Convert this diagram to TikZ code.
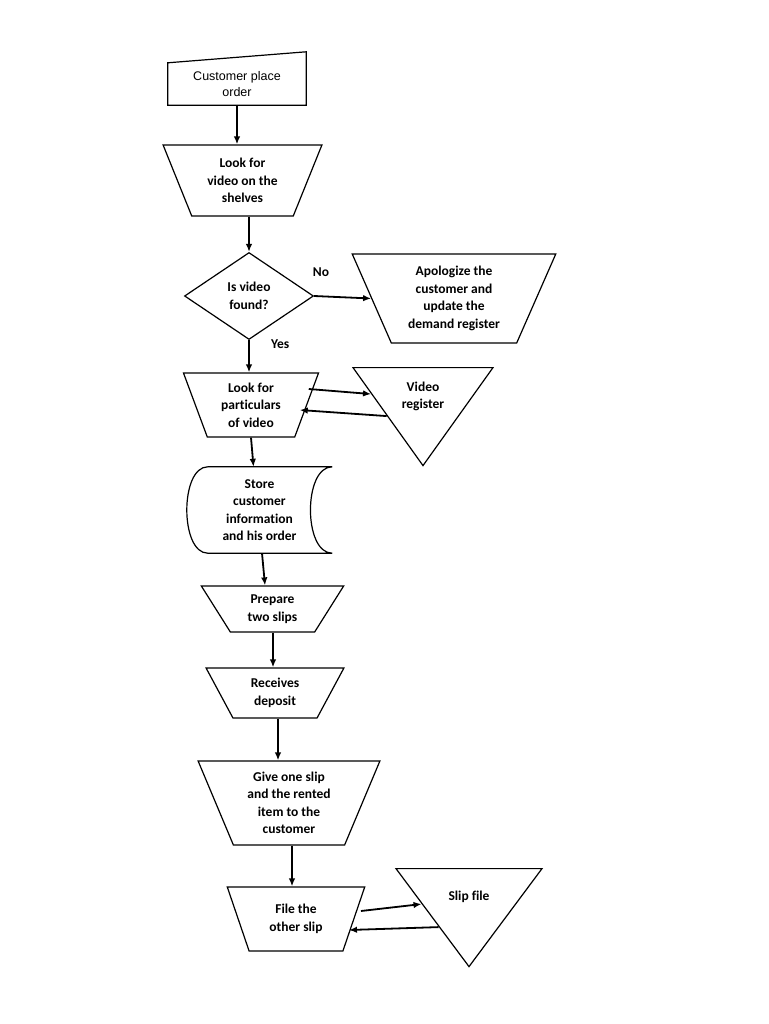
\documentclass[tikz,border=0pt]{standalone}
\usepackage{fontspec}
\setmainfont{Carlito}[Ligatures=NoCommon]
\newfontfamily\arialfont{Liberation Sans}
\usetikzlibrary{shapes.geometric,arrows.meta,calc}
\tikzset{
  proc/.style={draw, trapezium, shape border rotate=180, trapezium stretches, line width=1.2pt, inner sep=0pt, align=center},
  tri/.style={draw, isosceles triangle, shape border rotate=270, isosceles triangle stretches, line width=1.2pt, inner sep=0pt, align=center},
  arr/.style={line width=1.8pt, -{Latex[length=8pt,width=6.5pt]}},
}
\begin{document}
\begin{tikzpicture}[x=1pt, y=1pt, font={\fontsize{13.5}{17.5}\selectfont\bfseries}]
    \useasboundingbox (0,0) rectangle (768,-1024);
    \node[minimum width=138, minimum height=42, inner sep=0pt, align=center, font={\fontsize{12.5}{16}\selectfont\arialfont}] (order) at (237,-84) {Customer place\\order};
    \draw[line width=1.2pt] (order.south west) -- (order.south east) -- ([yshift=11]order.north east) -- (order.north west) -- cycle;
    \node[proc, trapezium left angle=66, trapezium right angle=66, minimum width=159, minimum height=71] (look) at (242.5,-180.5) {Look for\\video on the\\shelves};
    \node[draw, diamond, line width=1.2pt, minimum width=129, minimum height=87, inner sep=0pt, align=center] (found) at (249,-296) {Is video\\found?};
    \node[proc, trapezium left angle=66, trapezium right angle=66, minimum width=204, minimum height=89] (apol) at (454,-298.5) {Apologize the\\customer and\\update the\\demand register};
    \node[proc, trapezium left angle=70, trapezium right angle=70, minimum width=136, minimum height=64] (parts) at (251,-405) {Look for\\particulars\\of video};
    \node[tri, minimum width=140, minimum height=98, anchor=lower side] (vreg) at (423,-367) {Video\\register};
    \node[minimum width=145, minimum height=86, inner sep=0pt, align=center] (store) at (259.5,-510) {Store\\customer\\information\\and his order};
    \draw[line width=1.2pt] ([xshift=21]store.north west) -- (store.north east) .. controls +(-29,0) and +(-29,0) .. (store.south east) -- ([xshift=21]store.south west) .. controls +(-28,0) and +(-28,0) .. ([xshift=21]store.north west);
    \node[proc, trapezium left angle=59, trapezium right angle=59, minimum width=143, minimum height=46] (prep) at (272.5,-609) {Prepare\\two slips};
    \node[proc, trapezium left angle=62, trapezium right angle=62, minimum width=138, minimum height=50] (recv) at (275,-693) {Receives\\deposit};
    \node[proc, trapezium left angle=67, trapezium right angle=67, minimum width=182, minimum height=84] (give) at (289,-803) {Give one slip\\and the rented\\item to the\\customer};
    \node[proc, trapezium left angle=67, trapezium right angle=67, minimum width=138, minimum height=64] (file) at (296,-919) {File the\\other slip};
    \node[tri, minimum width=146, minimum height=98, anchor=lower side] (slipf) at (469,-868) {Slip file};

    \draw[arr] (order.south) -- (order.south |- look.north);
    \draw[arr] (look.south -| found.north) -- (found.north);
    \draw[arr] (found.east) -- node[pos=0.12, above=15pt] {No} (apol.west);
    \draw[arr] (found.south) -- node[pos=0.12, right=18pt] {Yes} (found.south |- parts.north);
    \draw[arr] ([shift={(1.5,16)}]parts.east) -- ($(vreg.right corner)!0.27!(vreg.apex)$);
    \draw[arr] ($(vreg.right corner)!0.49!(vreg.apex)$) -- ([shift={(-7.5,-5)}]parts.east);
    \draw[arr] (parts.south) -- ([xshift=-6]store.north);
    \draw[arr] ([xshift=2.5]store.south) -- ([xshift=-7.5]prep.north);
    \draw[arr] ([xshift=0.5]prep.south) -- ([xshift=0.5]prep.south |- recv.north);
    \draw[arr] ([xshift=3]recv.south) -- ([xshift=3]recv.south |- give.north);
    \draw[arr] ([xshift=3]give.south) -- ([xshift=3]give.south |- file.north);
    \draw[arr] ([shift={(6.5,8)}]file.east) -- ($(slipf.right corner)!0.36!(slipf.apex)$);
    \draw[arr] ($(slipf.right corner)!0.59!(slipf.apex)$) -- ([shift={(-5.5,-11)}]file.east);
\end{tikzpicture}
\end{document}
